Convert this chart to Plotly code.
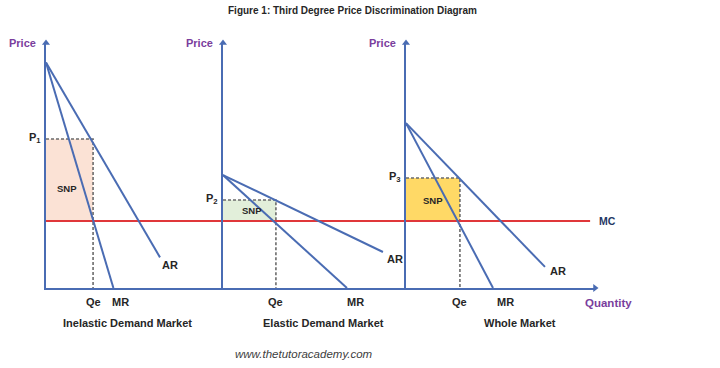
import plotly.graph_objects as go

# ---------------- data (price / quantity units) ----------------
panels = ["Inelastic Demand Market", "Elastic Demand Market", "Whole Market"]
price_labels = ["P<sub>1</sub>", "P<sub>2</sub>", "P<sub>3</sub>"]
demand_intercept = [92.0, 46.1, 67.3]      # price at Q = 0 (AR and MR start)
ar_end_q = [46.5, 65.3, 56.7]              # last drawn point of AR
ar_end_p = [12.5, 14.7, 8.6]
mr_end_q = [27.5, 50.6, 35.5]              # MR reaches zero
qe = [19.2, 21.6, 22.0]                    # profit-maximising quantity
p_eq = [60.8, 35.9, 44.9]                  # price charged
mc = 27.3                                  # marginal cost
x_max = [72.2, 74.7, 77.1]                 # extent of each panel's quantity axis
mc_end = [72.2, 74.7, 75.1]
snp_label_pos = [(8.6, 40.8), (11.8, 31.8), (11.0, 35.9)]
snp_colors = ["#fbe2d5", "#e2efda", "#ffd966"]
y_max = 100.0

BLUE = "#4a6cb3"
RED = "#e0373a"
DASH = "#6b6b6b"
PURPLE = "#7a3e9d"
TXT = "#262626"
FONT = "Liberation Sans, Arial, sans-serif"

W, H = 720, 368
x_px = [(46, 223), (223, 406), (406, 595)]
base_py, top_py = 288, 43

fig = go.Figure()

for i in range(3):
    xa = "x" if i == 0 else f"x{i+1}"
    ya = "y" if i == 0 else f"y{i+1}"
    fig.add_trace(go.Scatter(
        x=[0, qe[i], qe[i], 0, 0], y=[mc, mc, p_eq[i], p_eq[i], mc],
        fill="toself", fillcolor=snp_colors[i], mode="lines",
        line=dict(width=0), xaxis=xa, yaxis=ya, hoverinfo="skip"))
    fig.add_trace(go.Scatter(
        x=[0, qe[i], qe[i]], y=[p_eq[i], p_eq[i], 0], mode="lines",
        line=dict(color=DASH, width=1.6, dash="3px,2px"),
        xaxis=xa, yaxis=ya, hoverinfo="skip"))
    fig.add_trace(go.Scatter(
        x=[0, mc_end[i]], y=[mc, mc], mode="lines",
        line=dict(color=RED, width=2), xaxis=xa, yaxis=ya, hoverinfo="skip"))
    fig.add_trace(go.Scatter(
        x=[0, ar_end_q[i]], y=[demand_intercept[i], ar_end_p[i]], mode="lines",
        line=dict(color=BLUE, width=2), xaxis=xa, yaxis=ya, hoverinfo="skip"))
    fig.add_trace(go.Scatter(
        x=[0, mr_end_q[i]], y=[demand_intercept[i], 0], mode="lines",
        line=dict(color=BLUE, width=2), xaxis=xa, yaxis=ya, hoverinfo="skip"))
    # arrowhead at top of price axis
    fig.add_trace(go.Scatter(
        x=[0], y=[y_max], mode="markers", cliponaxis=False,
        marker=dict(symbol="triangle-up", size=7, color=BLUE),
        xaxis=xa, yaxis=ya, hoverinfo="skip"))

# arrowhead at end of quantity axis
fig.add_trace(go.Scatter(
    x=[x_max[2]], y=[0], mode="markers", cliponaxis=False,
    marker=dict(symbol="triangle-right", size=7, color=BLUE),
    xaxis="x3", yaxis="y3", hoverinfo="skip"))

layout = dict(
    width=W, height=H, margin=dict(l=0, r=0, t=0, b=0),
    paper_bgcolor="white", plot_bgcolor="rgba(0,0,0,0)",
    showlegend=False, font=dict(family=FONT, color=TXT),
)
ydom = [1 - base_py / H, 1 - top_py / H]
for i in range(3):
    k = "" if i == 0 else str(i + 1)
    layout[f"xaxis{k}"] = dict(
        domain=[x_px[i][0] / W, x_px[i][1] / W], range=[0, x_max[i]],
        anchor=f"y{k}", showline=True, linecolor=BLUE, linewidth=2,
        showgrid=False, zeroline=False, showticklabels=False, ticks="",
        fixedrange=True)
    layout[f"yaxis{k}"] = dict(
        domain=ydom, range=[0, y_max], anchor=f"x{k}",
        showline=True, linecolor=BLUE, linewidth=2,
        showgrid=False, zeroline=False, showticklabels=False, ticks="",
        fixedrange=True)
fig.update_layout(**layout)

lab = dict(family=FONT, size=11, color=TXT)
for i in range(3):
    k = "" if i == 0 else str(i + 1)
    xr, yr = f"x{k}", f"y{k}"
    fig.add_annotation(x=0, y=y_max, xref=xr, yref=yr, text="<b>Price</b>",
                       showarrow=False, xanchor="right", yanchor="middle",
                       xshift=-8, yshift=0,
                       font=dict(family=FONT, size=11, color=PURPLE))
    fig.add_annotation(x=0, y=p_eq[i], xref=xr, yref=yr,
                       text=f"<b>{price_labels[i]}</b>", showarrow=False,
                       xanchor="right", yanchor="middle", xshift=-3, yshift=1, font=lab)
    fig.add_annotation(x=snp_label_pos[i][0], y=snp_label_pos[i][1], xref=xr, yref=yr,
                       text="<b>SNP</b>", showarrow=False,
                       xanchor="center", yanchor="middle",
                       font=dict(family=FONT, size=9.5, color=TXT))
    fig.add_annotation(x=qe[i], y=0, xref=xr, yref=yr, text="<b>Qe</b>",
                       showarrow=False, xanchor="center", yanchor="middle",
                       yshift=-14, font=lab)
    fig.add_annotation(x=mr_end_q[i], y=0, xref=xr, yref=yr, text="<b>MR</b>",
                       showarrow=False, xanchor="center", yanchor="middle",
                       yshift=-14, xshift=[7, 9, 12][i], font=lab)
    fig.add_annotation(x=ar_end_q[i], y=ar_end_p[i], xref=xr, yref=yr, text="<b>AR</b>",
                       showarrow=False, xanchor="center", yanchor="middle",
                       xshift=[10, 12, 13][i], yshift=[-8, -7, -4][i], font=lab)
    fig.add_annotation(x=[127, 323, 520][i] / W, y=1 - 323 / H, xref="paper", yref="paper",
                       text=f"<b>{panels[i]}</b>", showarrow=False,
                       xanchor="center", yanchor="middle", font=lab)

fig.add_annotation(x=mc_end[2], y=mc, xref="x3", yref="y3", text="<b>MC</b>",
                   showarrow=False, xanchor="left", yanchor="middle", xshift=7,
                   font=dict(family=FONT, size=10.5, color="#1f3864"))
fig.add_annotation(x=x_max[2], y=0, xref="x3", yref="y3", text="<b>Quantity</b>",
                   showarrow=False, xanchor="center", yanchor="middle",
                   xshift=13, yshift=-15,
                   font=dict(family=FONT, size=11.5, color=PURPLE))
fig.add_annotation(x=352 / W, y=1 - 11 / H, xref="paper", yref="paper",
                   text="<b>Figure 1: Third Degree Price Discrimination Diagram</b>",
                   showarrow=False, xanchor="center", yanchor="middle",
                   font=dict(family=FONT, size=10, color=TXT))
fig.add_annotation(x=304 / W, y=1 - 354 / H, xref="paper", yref="paper",
                   text="<i>www.thetutoracademy.com</i>", showarrow=False,
                   xanchor="center", yanchor="middle",
                   font=dict(family=FONT, size=11.5, color="#404040"))

fig.write_html("out.html")
